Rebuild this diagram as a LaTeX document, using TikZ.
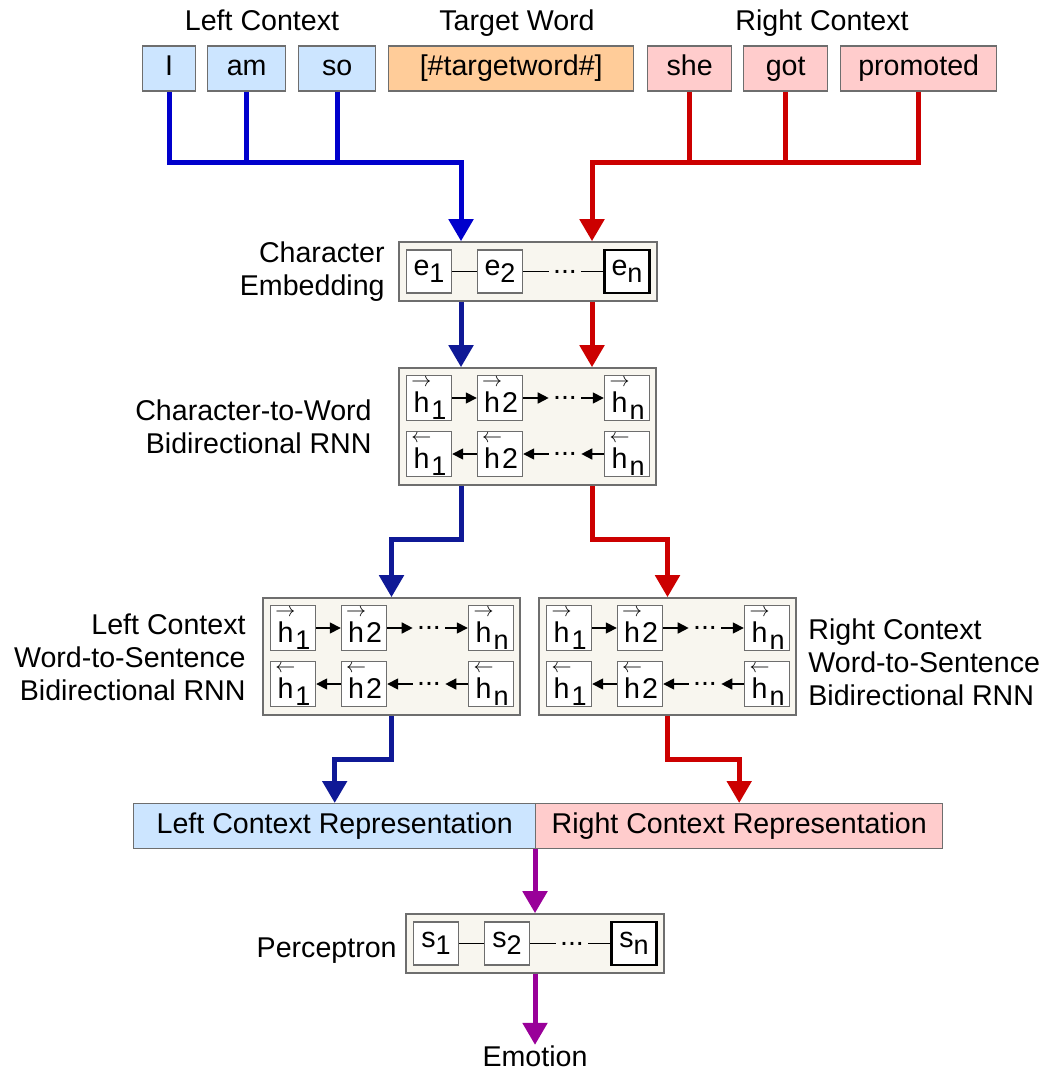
\documentclass[tikz,border=0pt]{standalone}
\usepackage{amsmath}
\usepackage{fontspec}
\setmainfont{Liberation Sans}
\usetikzlibrary{arrows.meta,positioning}

\definecolor{lblue}{RGB}{204,229,255}
\definecolor{lpink}{RGB}{255,204,204}
\definecolor{lorange}{RGB}{255,204,153}
\definecolor{panelbg}{RGB}{248,246,239}
\definecolor{edge}{RGB}{110,110,110}
\definecolor{topblue}{RGB}{0,0,204}
\definecolor{navy}{RGB}{15,25,150}
\definecolor{darkred}{RGB}{204,0,0}
\definecolor{violet}{RGB}{153,0,153}

\newcommand{\lowsub}[1]{\raisebox{-.45ex}{\fontsize{13.5}{14}\selectfont #1}}
\newcommand{\hf}[1]{$\overset{\scriptstyle\rightarrow}{\text{h}}$\lowsub{#1}}
\newcommand{\hb}[1]{$\overset{\scriptstyle\leftarrow}{\text{h}}$\lowsub{#1}}

% one row of units: name, left, top, letter
\newcommand{\chainrow}[4]{%
  \node[panel, minimum width=129pt, minimum height=29.5pt] (#1) at ({#2+129},{#3+29.5}) {};
  \node[cell, minimum height=21.5pt] (#1-1) at ({#2+30},{#3+29.5}) {#4\lowsub{1}};
  \node[cell, minimum height=21.5pt] (#1-2) at ({#2+101},{#3+29.5}) {#4\lowsub{2}};
  \node[dots] (#1-d) at ({#2+166},{#3+29.5}) {...};
  \node[lastcell, minimum height=21.5pt] (#1-n) at ({#2+228},{#3+29.5}) {#4\lowsub{n}};
  \draw[link] (#1-1) -- (#1-2);
  \draw[link] (#1-2) -- (#1-d);
  \draw[link] (#1-d) -- (#1-n);
}

% bidirectional rnn block: name, left, top
\newcommand{\birnn}[3]{%
  \node[panel, minimum width=128.5pt, minimum height=58.5pt] (#1) at ({#2+128.5},{#3+58.5}) {};
  \node[cell] (#1-f1) at ({#2+30},{#3+30}) {\hf{1}};
  \node[cell] (#1-f2) at ({#2+101},{#3+30}) {\hf{}2};
  \node[dots] (#1-fd) at ({#2+166},{#3+30}) {...};
  \node[cell] (#1-fn) at ({#2+228},{#3+30}) {\hf{n}};
  \node[cell] (#1-b1) at ({#2+30},{#3+86}) {\hb{1}};
  \node[cell] (#1-b2) at ({#2+101},{#3+86}) {\hb{}2};
  \node[dots] (#1-bd) at ({#2+166},{#3+86}) {...};
  \node[cell] (#1-bn) at ({#2+228},{#3+86}) {\hb{n}};
  \draw[fwd] (#1-f1) -- (#1-f2);
  \draw[fwd] (#1-f2) -- (#1-fd);
  \draw[fwd] (#1-fd) -- (#1-fn);
  \draw[fwd] (#1-b2) -- (#1-b1);
  \draw[fwd] (#1-bd) -- (#1-b2);
  \draw[fwd] (#1-bn) -- (#1-bd);
}

\begin{document}
\begin{tikzpicture}[x=0.5pt, y=-0.5pt,
    font=\fontsize{14.3}{16.5}\selectfont,
    >={Triangle[width=12pt,length=11pt]},
    word/.style={draw=edge, line width=0.7pt, minimum height=22.5pt, inner sep=0pt, text height=10.5pt, text depth=3pt},
    panel/.style={draw=edge, line width=0.8pt, fill=panelbg, inner sep=0pt},
    cell/.style={draw=edge, line width=0.7pt, fill=white, minimum width=22.5pt, minimum height=22.5pt, inner sep=0pt},
    lastcell/.style={cell, draw=black, line width=1.1pt},
    dots/.style={inner sep=2pt},
    txt/.style={inner sep=0pt},
    link/.style={line width=0.6pt},
    fwd/.style={line width=0.8pt, -{Triangle[width=5.5pt,length=5.5pt]}},
    blueline/.style={draw=topblue, line width=2.5pt},
    navyline/.style={draw=navy, line width=2.5pt},
    redline/.style={draw=darkred, line width=2.5pt},
    violetline/.style={draw=violet, line width=2.5pt}]
  \useasboundingbox (0,0) rectangle (1048,1075);

  % Titles
  \node[txt, anchor=base] (tleft) at (262,31) {Left Context};
  \node[txt, anchor=base] (ttarget) at (517,31) {Target Word};
  \node[txt, anchor=base] (tright) at (822,31) {Right Context};

  % Input words
  \node[word, fill=lblue, minimum width=26.5pt, anchor=west] (wI) at (142,68.5) {I};
  \node[word, fill=lblue, minimum width=39pt, anchor=west] (wam) at (207,68.5) {am};
  \node[word, fill=lblue, minimum width=38.5pt, anchor=west] (wso) at (298,68.5) {so};
  \node[word, fill=lorange, minimum width=122.5pt, anchor=west] (wtarget) at (388,68.5) {[\#targetword\#]};
  \node[word, fill=lpink, minimum width=42pt, anchor=west] (wshe) at (647,68.5) {she};
  \node[word, fill=lpink, minimum width=42pt, anchor=west] (wgot) at (743,68.5) {got};
  \node[word, fill=lpink, minimum width=78pt, anchor=west] (wpro) at (840,68.5) {promoted};

  % Layers
  \chainrow{emb}{399}{242}{e}
  \birnn{rnn}{399}{368}
  \birnn{lrnn}{263}{598}
  \birnn{rrnn}{539}{598}
  \node[word, fill=lblue, minimum width=201pt, anchor=north west] (lrep) at (133,803) {Left Context Representation};
  \node[word, fill=lpink, minimum width=203.5pt, anchor=north west] (rrep) at (535,803) {Right Context Representation};
  \chainrow{perc}{406}{914}{s}
  \node[txt, anchor=base] (emo) at (535,1066) {Emotion};

  % Layer names
  \node[txt, anchor=east, align=right] (nemb) at (385,272) {Character\\Embedding};
  \node[txt, anchor=east, align=right] (nrnn) at (372,427) {Character-to-Word\\Bidirectional RNN};
  \node[txt, anchor=east, align=right] (nlrnn) at (246,657) {Left Context\\Word-to-Sentence\\Bidirectional RNN};
  \node[txt, anchor=west, align=left] (nrrnn) at (808,662) {Right Context\\Word-to-Sentence\\Bidirectional RNN};
  \node[txt, anchor=base east] (nperc) at (397,957) {Perceptron};

  % Left context flow
  \coordinate (bl) at (461,163);
  \draw[blueline, ->] (wI.south) |- (bl) -- (bl |- emb.north);
  \draw[blueline] (wam.south) -- (wam.south |- bl);
  \draw[blueline] (wso.south) -- (wso.south |- bl);
  \draw[navyline, ->] (emb.south -| bl) -- (rnn.north -| bl);
  \draw[navyline, ->] (rnn.south -| bl) -- ++(0,54) -| (lrnn.north);
  \draw[navyline, ->] (lrnn.south) -- ++(0,44) -| (lrep.north);

  % Right context flow
  \coordinate (rd) at (592,163);
  \draw[redline, ->] (wpro.south) |- (rd) -- (rd |- emb.north);
  \draw[redline] (wshe.south) -- (wshe.south |- rd);
  \draw[redline] (wgot.south) -- (wgot.south |- rd);
  \draw[redline, ->] (emb.south -| rd) -- (rnn.north -| rd);
  \draw[redline, ->] (rnn.south -| rd) -- ++(0,54) -| (rrnn.north);
  \draw[redline, ->] (rrnn.south) -- ++(0,44) -| (rrep.north);

  % Output
  \draw[violetline, ->] (perc.north |- lrep.south) -- (perc.north);
  \draw[violetline, ->] (perc.south) -- (emo.north);
\end{tikzpicture}
\end{document}
